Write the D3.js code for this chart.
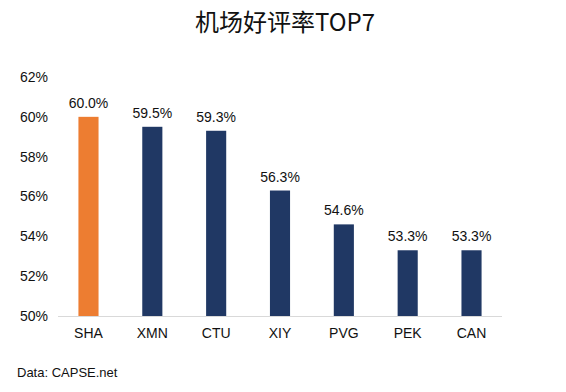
<!DOCTYPE html>
<html><head><meta charset="utf-8">
<script src="https://cdn.jsdelivr.net/npm/d3@7"></script>
<style>body{margin:0;background:#fff}svg{display:block}</style>
</head><body>
<script>
const categories = ["SHA","XMN","CTU","XIY","PVG","PEK","CAN"];
const values = [60.0,59.5,59.3,56.3,54.6,53.3,53.3];
const yTicks = [50,52,54,56,58,60,62];
const title = "机场好评率TOP7";
const source = "Data: CAPSE.net";

const W=566,H=392;
const svg=d3.select("body").append("svg").attr("width",W).attr("height",H);
const font="'Liberation Sans', Arial, sans-serif";
const x=d3.scaleBand().domain(categories).range([58,502]).paddingInner(0.685).paddingOuter(0.32);
const y=d3.scaleLinear().domain([50,62]).range([316,77]);

svg.append("text").attr("x",285).attr("y",31).attr("text-anchor","middle")
  .attr("font-family","'Noto Sans CJK SC', 'Liberation Sans', sans-serif").attr("font-size",24).attr("fill","#111").text(title);

const ya=svg.append("g").attr("transform","translate(48,0)")
  .call(d3.axisLeft(y).tickValues(yTicks).tickSize(0).tickPadding(0).tickFormat(d=>d+"%"));
ya.select(".domain").remove();
ya.selectAll("text").attr("font-family",font).attr("font-size",14).attr("fill","#111");

svg.append("line").attr("x1",58).attr("x2",502).attr("y1",316.5).attr("y2",316.5).attr("stroke","#d9d9d9").attr("stroke-width",1);

svg.selectAll("rect.bar").data(categories).enter().append("rect")
  .attr("x",d=>x(d)).attr("width",x.bandwidth())
  .attr("y",(d,i)=>y(values[i])).attr("height",(d,i)=>y(50)-y(values[i]))
  .attr("fill",(d,i)=>i===0?"#ED7D31":"#203864");

svg.selectAll("text.val").data(categories).enter().append("text")
  .attr("x",d=>x(d)+x.bandwidth()/2).attr("y",(d,i)=>y(values[i])-9)
  .attr("text-anchor","middle").attr("font-family",font).attr("font-size",14).attr("fill","#111")
  .text((d,i)=>values[i].toFixed(1)+"%");

const xa=svg.append("g").attr("transform","translate(0,316)")
  .call(d3.axisBottom(x).tickSize(0).tickPadding(12));
xa.select(".domain").remove();
xa.selectAll("text").attr("font-family",font).attr("font-size",14).attr("fill","#111");

svg.append("text").attr("x",17).attr("y",377).attr("font-family",font).attr("font-size",13).attr("fill","#111").text(source);
</script>
</body></html>
